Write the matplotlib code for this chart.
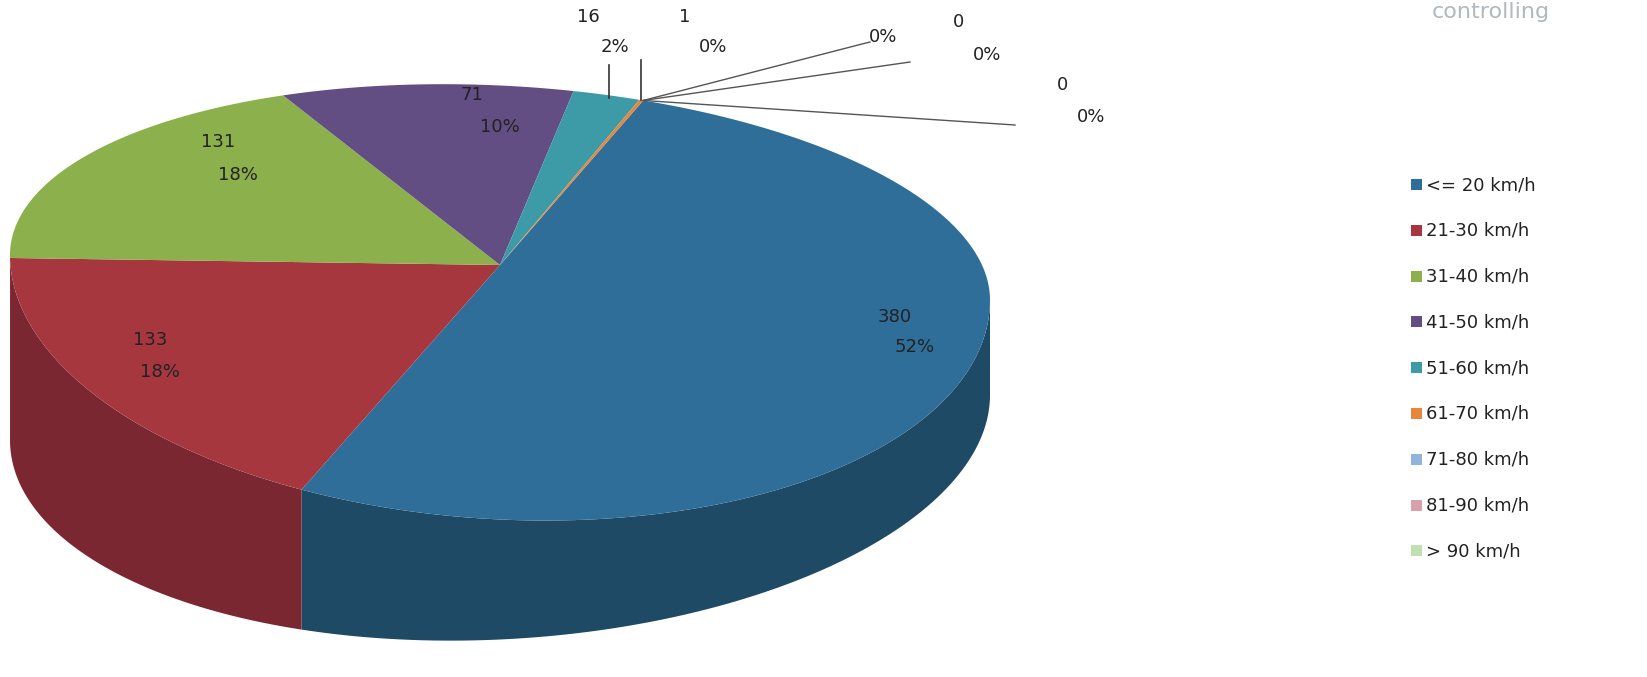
import numpy as np
import matplotlib.pyplot as plt
from matplotlib.patches import Polygon, Rectangle

# data
labels = ['<= 20 km/h', '21-30 km/h', '31-40 km/h', '41-50 km/h', '51-60 km/h',
          '61-70 km/h', '71-80 km/h', '81-90 km/h', '> 90 km/h']
values = [380, 133, 131, 71, 16, 1, 0, 0, 0]
top_cols = ['#2F6E98', '#A6373F', '#8CB04C', '#624E82', '#3C9BA7', '#E6873C', '#8FB5DA', '#D8A0AC', '#BFE0B0']
side_cols = ['#1E4A66', '#7B2731', '#647F33', '#43355C', '#2A6F78', '#A85F28', '#6A88A6', '#A07880', '#8FA884']

W, H = 1647, 677
fig = plt.figure(figsize=(W / 100, H / 100), dpi=100)
ax = fig.add_axes([0, 0, 1, 1])
ax.set_xlim(0, W)
ax.set_ylim(H, 0)
ax.axis('off')

cx, rx = 500, 490
start = 73.0
total = sum(values)

def top_pt(a):
    r = np.radians(a)
    c, s = np.cos(r), np.sin(r)
    ry = 192 if s > 0 else 242
    return cx + rx * c, 277.5 + 22.5 * c - ry * s

def bot_pt(a):
    r = np.radians(a)
    c, s = np.cos(r), np.sin(r)
    return cx + rx * c, 417.5 - 22.5 * c - 222 * s

wedges = []
a0 = start
for v in values:
    a1 = a0 - 360.0 * v / total
    wedges.append((a1, a0))
    a0 = a1

# side walls (front half only)
for (a1, a0), sc in zip(wedges, side_cols):
    for off in (0, 360, -360):
        l, h = max(a1 + off, -180), min(a0 + off, 0)
        if h > l:
            angs = np.linspace(l, h, 120)
            top = [top_pt(a) for a in angs]
            bot = [bot_pt(a) for a in angs]
            ax.add_patch(Polygon(top + bot[::-1], closed=True, fc=sc, ec='none'))

# tops
for (a1, a0), tc in zip(wedges, top_cols):
    if a0 - a1 <= 0:
        continue
    angs = np.linspace(a1, a0, 200)
    poly = [(cx, 265)] + [top_pt(a) for a in angs]
    ax.add_patch(Polygon(poly, closed=True, fc=tc, ec='none'))

fs = 13
col = '#222222'
ax.text(895, 322, '380', fontsize=fs, color=col, ha='center')
ax.text(915, 352, '52%', fontsize=fs, color=col, ha='center')
ax.text(150, 345, '133', fontsize=fs, color=col, ha='center')
ax.text(160, 377, '18%', fontsize=fs, color=col, ha='center')
ax.text(218, 147, '131', fontsize=fs, color=col, ha='center')
ax.text(238, 180, '18%', fontsize=fs, color=col, ha='center')
ax.text(472, 100, '71', fontsize=fs, color=col, ha='center')
ax.text(500, 132, '10%', fontsize=fs, color=col, ha='center')

# small slice labels with leader lines, anchored at the tiny slices' rim
ax_, ay_ = top_pt(wedges[5][0])
ax.text(588, 22, '16', fontsize=fs, color=col, ha='center')
ax.text(615, 52, '2%', fontsize=fs, color=col, ha='center')
ax.plot([609, 609], [65, ay_ - 2], color='#333333', lw=1.2)
ax.text(685, 22, '1', fontsize=fs, color=col, ha='center')
ax.text(713, 52, '0%', fontsize=fs, color=col, ha='center')
ax.plot([ax_ - 2, ax_ - 2], [60, ay_], color='#333333', lw=1.2)
ax.text(883, 42, '0%', fontsize=fs, color=col, ha='center')
ax.plot([ax_, 862, 870], [ay_, 44, 42], color='#555555', lw=1)
ax.text(958, 27, '0', fontsize=fs, color=col, ha='center')
ax.text(987, 60, '0%', fontsize=fs, color=col, ha='center')
ax.plot([ax_, 910], [ay_, 62], color='#555555', lw=1)
ax.text(1062, 90, '0', fontsize=fs, color=col, ha='center')
ax.text(1091, 122, '0%', fontsize=fs, color=col, ha='center')
ax.plot([ax_, 1015], [ay_, 125], color='#555555', lw=1)

# legend
for i, (lab, c) in enumerate(zip(labels, top_cols)):
    y = 185 + i * 45.8
    ax.add_patch(Rectangle((1411, y - 6), 11, 11, fc=c, ec='none'))
    ax.text(1426, y, lab, fontsize=13, color=col, va='center')

ax.text(1432, 12, 'controlling', fontsize=16, color='#B0B8C0', va='center')

fig.savefig('out.png', dpi=100)
